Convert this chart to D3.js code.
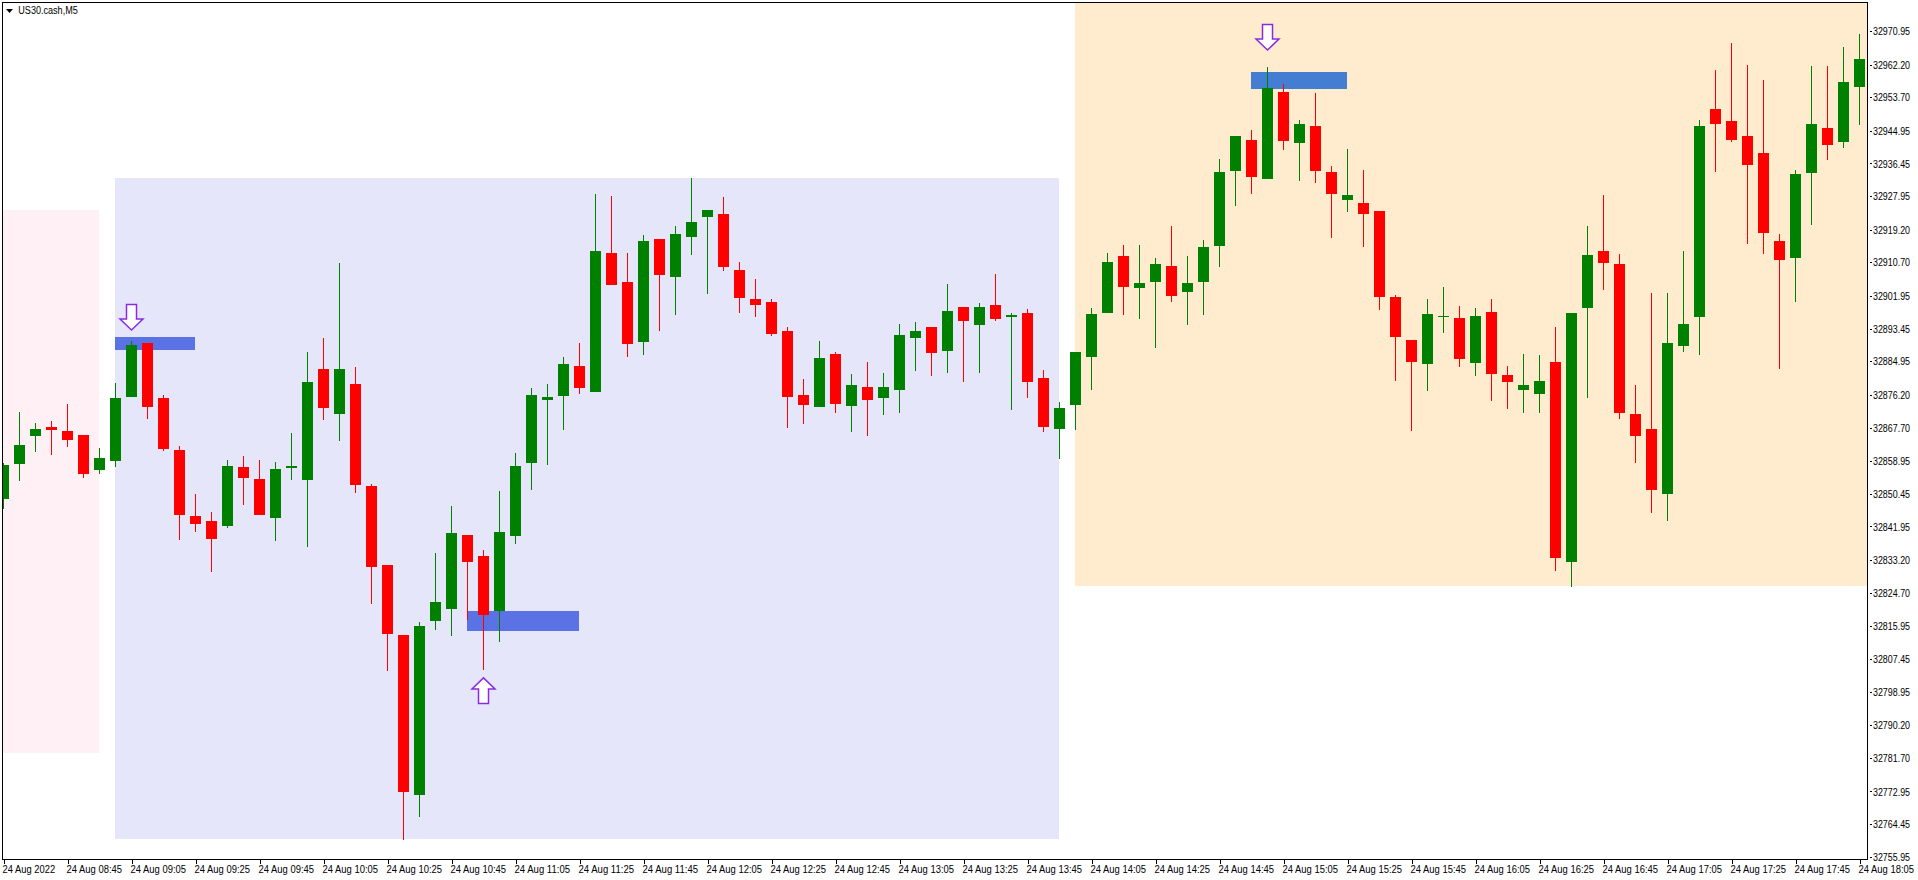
<!DOCTYPE html>
<html>
<head>
<meta charset="utf-8">
<title>US30.cash,M5</title>
<script src="https://cdn.jsdelivr.net/npm/d3@7/dist/d3.min.js"></script>
<style>
html,body{margin:0;padding:0;background:#fff;overflow:hidden}
svg{display:block}
text{font-family:"Liberation Sans",Arial,sans-serif;font-size:10px;fill:#000}
</style>
</head>
<body>
<svg id="chart" width="1918" height="880"></svg>
<script>
const chartTitle = "US30.cash,M5";

const highs = [32858.47,32871.75,32868.88,32869.40,32873.83,32865.76,32862.37,32879.30,32890.23,32889.71,32876.17,32862.89,32850.39,32845.70,32859.25,32860.29,32859.25,32858.73,32866.28,32887.37,
32891.01,32910.54,32883.46,32852.99,32831.90,32813.68,32817.06,32835.02,32847.27,32839.72,32835.81,32851.17,32861.07,32878.00,32879.04,32886.07,32889.71,32928.50,32927.98,32913.15,
32917.83,32916.79,32920.17,32932.67,32924.34,32927.72,32910.80,32906.37,32901.17,32893.88,32880.34,32890.23,32887.37,32881.64,32884.76,32881.90,32894.66,32895.18,32893.88,32905.07,
32899.09,32900.13,32907.67,32897.52,32898.56,32882.68,32874.35,32887.37,32898.82,32913.15,32915.23,32915.23,32911.84,32920.17,32912.36,32916.53,32937.62,32943.61,32945.17,32961.57,
32957.15,32947.77,32954.80,32935.80,32940.22,32934.75,32924.08,32902.21,32890.49,32901.17,32904.29,32899.35,32898.82,32901.17,32883.72,32886.85,32886.59,32893.88,32897.52,32920.17,
32928.24,32912.88,32878.78,32902.73,32902.73,32913.67,32947.77,32960.79,32967.80,32962.09,32958.19,32918.09,32934.75,32961.83,32961.83,32966.78,32970.17];

const lows = [32846.49,32853.78,32861.33,32860.55,32862.63,32854.56,32855.60,32857.43,32875.65,32869.92,32861.59,32838.41,32840.50,32830.08,32841.54,32847.53,32844.92,32838.15,32854.04,32836.59,
32869.66,32864.20,32850.65,32821.75,32804.31,32760.30,32766.29,32814.98,32813.42,32817.58,32804.57,32811.86,32837.38,32851.43,32857.95,32867.06,32876.43,32876.95,32904.81,32886.07,
32886.59,32892.83,32897.00,32912.62,32902.47,32908.46,32897.52,32896.48,32891.53,32867.58,32868.62,32873.05,32871.49,32866.54,32865.50,32870.96,32871.49,32882.42,32881.12,32881.90,
32879.56,32881.90,32895.44,32872.27,32875.39,32866.54,32859.51,32867.06,32877.48,32897.52,32897.00,32895.96,32888.41,32900.39,32894.40,32897.00,32909.50,32925.38,32928.50,32932.41,
32939.96,32931.89,32931.37,32917.05,32923.82,32914.71,32898.30,32879.82,32866.80,32877.21,32892.31,32883.46,32881.12,32874.61,32872.53,32871.49,32871.49,32830.34,32826.17,32875.39,
32903.51,32869.92,32858.47,32845.44,32843.36,32887.37,32886.59,32934.23,32942.05,32915.49,32912.88,32882.94,32900.39,32920.43,32937.36,32940.48,32946.47];

const bodyTops = [32857.95,32863.15,32867.32,32867.84,32866.80,32865.76,32859.77,32875.39,32889.19,32889.71,32875.39,32861.85,32844.66,32843.36,32857.69,32857.43,32854.30,32856.90,32857.69,32879.56,
32882.94,32882.94,32879.04,32852.47,32831.90,32813.68,32816.02,32822.27,32840.24,32839.72,32834.24,32840.50,32857.69,32876.17,32875.65,32884.24,32883.72,32913.67,32913.15,32905.59,
32916.27,32916.79,32918.09,32921.21,32924.34,32923.30,32908.72,32901.17,32900.39,32892.83,32876.17,32885.81,32886.85,32878.78,32878.26,32878.26,32891.79,32892.83,32893.88,32898.04,
32899.09,32899.09,32899.61,32897.00,32897.52,32880.60,32872.79,32887.37,32897.26,32910.80,32912.36,32905.33,32910.28,32909.76,32905.33,32914.71,32934.23,32943.61,32942.57,32956.11,
32955.06,32946.73,32946.21,32934.23,32928.24,32926.16,32924.08,32901.69,32890.49,32897.26,32896.74,32896.22,32896.74,32897.78,32881.38,32878.78,32879.82,32884.76,32897.52,32912.62,
32913.67,32910.28,32871.22,32867.32,32889.71,32894.66,32946.21,32950.64,32947.51,32943.61,32939.18,32916.27,32933.71,32946.73,32945.69,32957.67,32963.66];

const bodyBottoms = [32849.09,32858.21,32865.50,32867.06,32864.46,32855.60,32856.64,32858.99,32875.65,32873.05,32862.11,32844.92,32842.58,32838.67,32842.06,32854.56,32844.92,32844.14,32857.17,32854.04,
32872.79,32871.22,32852.73,32831.38,32813.94,32772.80,32772.02,32817.32,32820.45,32832.69,32818.89,32819.93,32839.46,32858.47,32874.87,32875.91,32878.00,32876.95,32904.81,32889.45,
32889.97,32907.41,32906.89,32917.31,32922.52,32909.50,32901.43,32899.61,32892.05,32875.65,32873.57,32873.05,32873.83,32873.31,32874.87,32875.39,32877.48,32891.01,32887.11,32887.63,
32895.44,32894.40,32895.96,32896.48,32879.56,32867.84,32867.32,32873.57,32886.07,32897.52,32904.29,32904.03,32905.59,32901.95,32902.99,32905.59,32914.97,32934.49,32932.93,32932.41,
32942.31,32941.79,32934.49,32928.50,32926.94,32923.30,32901.69,32891.27,32884.76,32884.24,32896.48,32885.55,32884.50,32881.64,32879.56,32877.48,32876.43,32833.73,32832.69,32898.82,
32910.54,32871.49,32865.50,32851.43,32850.39,32888.93,32896.48,32946.73,32942.57,32936.06,32918.35,32911.32,32911.84,32933.97,32941.27,32942.05,32956.37];

// Bars that closed above their open (bar numbers, counted from the left edge)
const bullishBars = [0,1,2,6,7,8,14,17,18,19,21,26,27,28,31,32,33,34,35,37,40,42,43,44,51,53,55,56,57,59,61,63,66,67,68,69,71,72,74,75,76,77,79,81,84,89,90,92,95,96,98,99,104,105,106,112,113,115,116];

const priceTicks = [32970.95,32962.20,32953.70,32944.95,32936.45,32927.95,32919.20,32910.70,32901.95,32893.45,32884.95,32876.20,32867.70,32858.95,32850.45,32841.95,32833.20,32824.70,32815.95,32807.45,32798.95,32790.20,32781.70,32772.95,32764.45,32755.95];

const timeTickBars = [0,4,8,12,16,20,24,28,32,36,40,44,48,52,56,60,64,68,72,76,80,84,88,92,96,100,104,108,112,116];
const timeTickLabels = ["24 Aug 2022","24 Aug 08:45","24 Aug 09:05","24 Aug 09:25","24 Aug 09:45","24 Aug 10:05","24 Aug 10:25","24 Aug 10:45","24 Aug 11:05","24 Aug 11:25","24 Aug 11:45","24 Aug 12:05","24 Aug 12:25","24 Aug 12:45","24 Aug 13:05","24 Aug 13:25","24 Aug 13:45","24 Aug 14:05","24 Aug 14:25","24 Aug 14:45","24 Aug 15:05","24 Aug 15:25","24 Aug 15:45","24 Aug 16:05","24 Aug 16:25","24 Aug 16:45","24 Aug 17:05","24 Aug 17:25","24 Aug 17:45","24 Aug 18:05"];

// Session boxes: [first bar, last bar, top price, bottom price, colour]
const sessionZones = [
  [-1,   6, 32924.34, 32783.00, "#fff0f5"],
  [ 7,  66, 32932.67, 32760.56, "#e6e6fa"],
  [67, 118, 32990.00, 32826.50, "#ffebcd"]
];
// Blue order blocks: [first bar, last bar, top price, bottom price, colour]
const blueBlocks = [
  [ 7, 12, 32891.27, 32887.89, "#5b72e5"],
  [29, 36, 32819.93, 32814.72, "#5b72e5"],
  [78, 84, 32960.27, 32955.85, "#447ed3"]
];
// Arrows: [bar, tip price, direction]
const arrowMarks = [
  [ 8, 32893.09, "down"],
  [30, 32802.51, "up"],
  [79, 32966.00, "down"]
];

const GREEN = "#008000", RED = "#ff0000", VIOLET = "#8a2be2";
const plot = {left: 2, top: 2, right: 1867, bottom: 859};

const x = d3.scaleLinear().domain([0, 116]).range([3.5, 1859.5]);
const y = d3.scaleLinear().domain([32970.95, 32755.95]).range([31, 856.7]);

const svg = d3.select("#chart");

svg.append("defs").append("clipPath").attr("id", "plot-clip")
  .append("rect")
  .attr("x", plot.left + 1).attr("y", plot.top + 1)
  .attr("width", plot.right - plot.left - 1)
  .attr("height", plot.bottom - plot.top - 1);

const inner = svg.append("g").attr("clip-path", "url(#plot-clip)");

function boxes(cls, rows) {
  inner.append("g").attr("class", cls).attr("shape-rendering", "crispEdges")
    .selectAll("rect").data(rows).join("rect")
    .attr("x", d => Math.floor(x(d[0])))
    .attr("width", d => Math.floor(x(d[1])) - Math.floor(x(d[0])))
    .attr("y", d => Math.round(y(d[2])))
    .attr("height", d => Math.round(y(d[3])) - Math.round(y(d[2])))
    .attr("fill", d => d[4]);
}
boxes("zones", sessionZones);
boxes("blocks", blueBlocks);

const bars = highs.map((h, i) => ({
  i, high: h, low: lows[i], top: bodyTops[i], bottom: bodyBottoms[i],
  up: bullishBars.includes(i)
}));

const candles = inner.append("g").attr("class", "candles").attr("shape-rendering", "crispEdges")
  .selectAll("g").data(bars).join("g")
  .attr("fill", d => d.up ? GREEN : RED);

candles.append("rect").attr("class", "wick")
  .attr("x", d => x(d.i) - 0.5).attr("width", 1)
  .attr("y", d => Math.round(y(d.high)))
  .attr("height", d => Math.round(y(d.low)) - Math.round(y(d.high)));

candles.append("rect").attr("class", "body")
  .attr("x", d => x(d.i) - 5.5).attr("width", 11)
  .attr("y", d => Math.round(y(d.top)))
  .attr("height", d => Math.max(1, Math.round(y(d.bottom)) - Math.round(y(d.top))));

// Hollow arrows, drawn as an outline pointing at the anchored price
const arrowShape = d3.line()([[0,0],[-11.5,-11],[-5,-11],[-5,-25.5],[5,-25.5],[5,-11],[11.5,-11]]) + "Z";
inner.append("g").attr("class", "arrows")
  .selectAll("path").data(arrowMarks).join("path")
  .attr("d", arrowShape)
  .attr("transform", d => `translate(${x(d[0])},${y(d[1])})${d[2] === "up" ? " scale(1,-1)" : ""}`)
  .attr("fill", "#fff")
  .attr("stroke", VIOLET)
  .attr("stroke-width", 1.5);

// Frame and axes
svg.append("g").attr("shape-rendering", "crispEdges")
  .append("path")
  .attr("d", d3.line()([[plot.left + 0.5, plot.bottom], [plot.left + 0.5, plot.top + 0.5], [plot.right + 0.5, plot.top + 0.5]]))
  .attr("fill", "none").attr("stroke", "#000");

const priceAxis = svg.append("g")
  .attr("transform", `translate(${plot.right + 0.5},0)`)
  .call(d3.axisRight(y).tickValues(priceTicks).tickSizeOuter(0).tickSize(4).tickFormat(d3.format(".2f")));
priceAxis.attr("font-size", null).attr("font-family", null);
priceAxis.select(".domain").attr("d", `M0,${plot.top}V${plot.bottom + 1}`).attr("stroke", "#000").attr("shape-rendering", "crispEdges");
priceAxis.selectAll(".tick line").attr("x1", 2).attr("x2", 4.5).attr("stroke", "#000").attr("shape-rendering", "crispEdges");
priceAxis.selectAll(".tick text")
  .attr("x", 5.5).attr("dy", "3.6px")
  .attr("textLength", 37).attr("lengthAdjust", "spacingAndGlyphs");

const timeAxis = svg.append("g")
  .attr("transform", `translate(0,${plot.bottom + 0.5})`)
  .call(d3.axisBottom(x).tickValues(timeTickBars).tickSizeOuter(0).tickSize(4).tickFormat((d, i) => timeTickLabels[i]));
timeAxis.attr("font-size", null).attr("font-family", null);
timeAxis.select(".domain").attr("d", `M${plot.left},0H${plot.right + 1}`).attr("stroke", "#000").attr("shape-rendering", "crispEdges");
timeAxis.selectAll(".tick line").attr("stroke", "#000").attr("shape-rendering", "crispEdges");
timeAxis.selectAll(".tick text")
  .attr("text-anchor", "start").attr("x", -1.5).attr("y", 13.2).attr("dy", 0)
  .attr("textLength", (d, i) => i === 0 ? 52.6 : 55.5).attr("lengthAdjust", "spacingAndGlyphs");

// Title with the small drop-down marker
svg.append("path")
  .attr("d", d3.line()([[6,9],[13,9],[9.5,13]]) + "Z")
  .attr("fill", "#000");
svg.append("text").attr("x", 18.3).attr("y", 14.3)
  .attr("textLength", 59.5).attr("lengthAdjust", "spacingAndGlyphs")
  .text(chartTitle);
</script>
</body>
</html>
